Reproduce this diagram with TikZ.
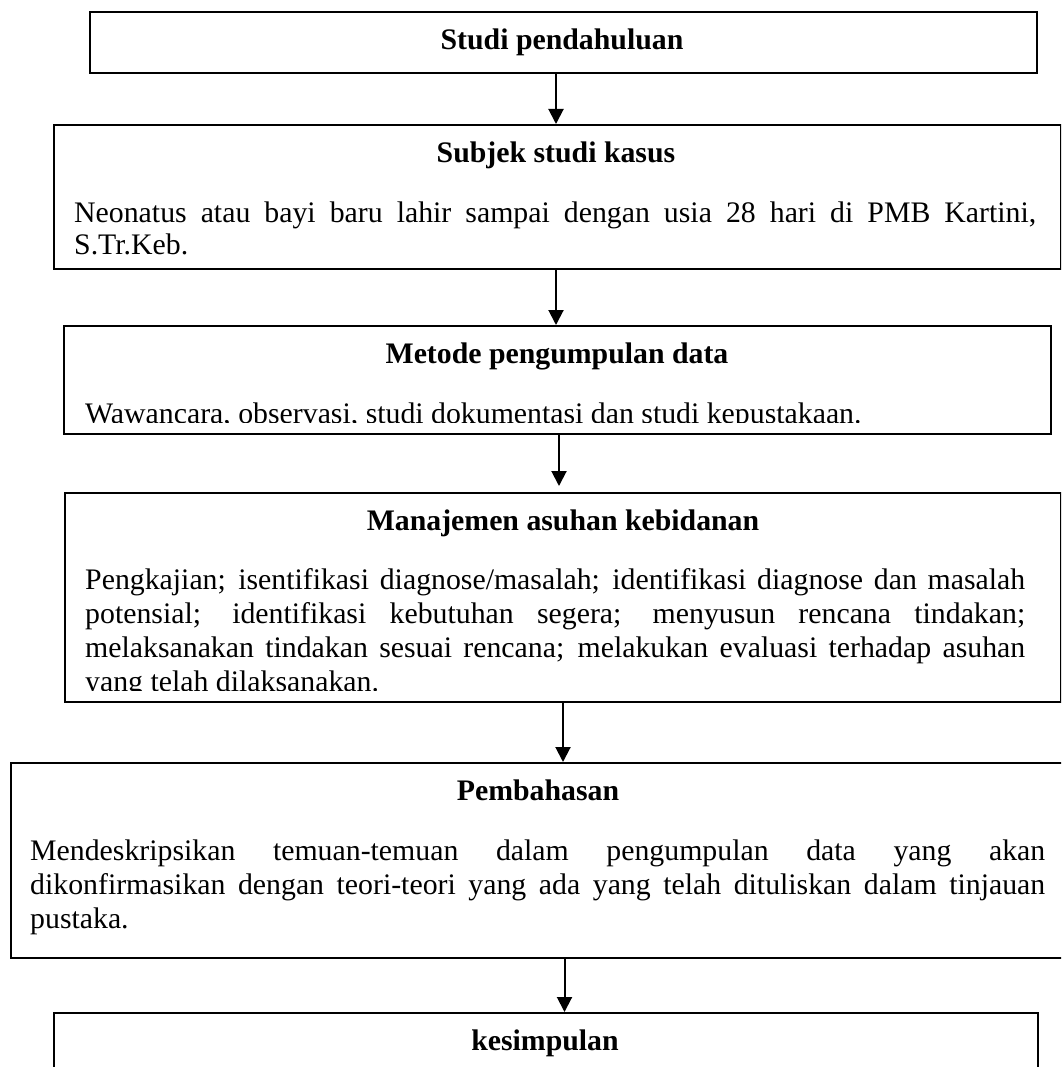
\documentclass[tikz,border=0pt]{standalone}
\usepackage{fontspec}
\setmainfont{Liberation Serif}
\usetikzlibrary{arrows.meta}
\begin{document}
\begin{tikzpicture}[x=1pt,y=-1pt,
  box/.style={draw,line width=2pt,inner sep=0pt,anchor=north west},
  title/.style={font=\bfseries\fontsize{29.8}{34}\selectfont,inner sep=0pt,anchor=base},
  body/.style={font=\fontsize{29.8}{34}\selectfont,inner sep=0pt,anchor=base west,align=justify,
    execute at begin node={\hyphenpenalty=10000\exhyphenpenalty=10000\tolerance=10000\hbadness=10000}},
  line/.style={body,align=left},
  arr/.style={line width=2pt,-{Triangle[width=15pt,length=15pt]}}]
\useasboundingbox (0,0) rectangle (1061,1067);
\clip (0,0) rectangle (1061,1067);

% boxes
\node[box,minimum width=947pt,minimum height=61pt]  (b1) at (89,11) {};
\node[box,minimum width=1007pt,minimum height=144pt] (b2) at (53,124) {};
\node[box,minimum width=987pt,minimum height=108pt] (b3) at (63,325) {};
\node[box,minimum width=996pt,minimum height=209pt] (b4) at (64,492) {};
\node[box,minimum width=1060pt,minimum height=195pt] (b5) at (10,762) {};
\node[box,minimum width=984pt,minimum height=80pt]  (b6) at (53,1012) {};

% titles
\node[title] (t1) at (562,50)  {Studi pendahuluan};
\node[title] (t2) at (556,163) {Subjek studi kasus};
\node[title] (t3) at (557,363) {Metode pengumpulan data};
\node[title] (t4) at (563,530) {Manajemen asuhan kebidanan};
\node[title] (t5) at (538,800) {Pembahasan};
\node[title] (t6) at (545,1050) {kesimpulan};

% bodies
\node[body,text width=962pt,font=\fontsize{29.8}{32}\selectfont] (d2) at (74,223)
  {Neonatus atau bayi baru lahir sampai dengan usia 28 hari di PMB Kartini,\linebreak S.Tr.Keb.};
\begin{scope}
  \clip (63,325) rectangle (1050,422);
  \node[line] (d3) at (85,423)
    {Wawancara, observasi, studi dokumentasi dan studi kepustakaan.};
\end{scope}
\begin{scope}
  \clip (64,492) rectangle (1060,690);
  \node[body,text width=940pt] (d4) at (85,589)
    {Pengkajian; isentifikasi diagnose/masalah; identifikasi diagnose dan masalah\linebreak
     potensial; identifikasi kebutuhan segera; menyusun rencana tindakan;\linebreak
     melaksanakan tindakan sesuai rencana; melakukan evaluasi terhadap asuhan\linebreak
     yang telah dilaksanakan.};
\end{scope}
\node[body,text width=1015pt] (d5) at (30,860)
  {Mendeskripsikan temuan-temuan dalam pengumpulan data yang akan\linebreak
   dikonfirmasikan dengan teori-teori yang ada yang telah dituliskan dalam tinjauan\linebreak
   pustaka.};

% connectors
\coordinate (s1) at ([xshift=-7.5pt]b1.south);
\coordinate (s2) at ([xshift=-1.5pt]b2.south);
\coordinate (s3) at ([xshift=1.5pt]b3.south);
\coordinate (s4) at ([xshift=0pt]b4.south);
\coordinate (s5) at ([xshift=23.5pt]b5.south);
\coordinate (e3) at ([yshift=6pt]s3 |- b4.north);
\draw[arr] (s1) -- (s1 |- b2.north);
\draw[arr] (s2) -- (s2 |- b3.north);
\draw[arr] (s3) -- (e3);
\draw[arr] (s4) -- (s4 |- b5.north);
\draw[arr] (s5) -- (s5 |- b6.north);
\end{tikzpicture}
\end{document}
